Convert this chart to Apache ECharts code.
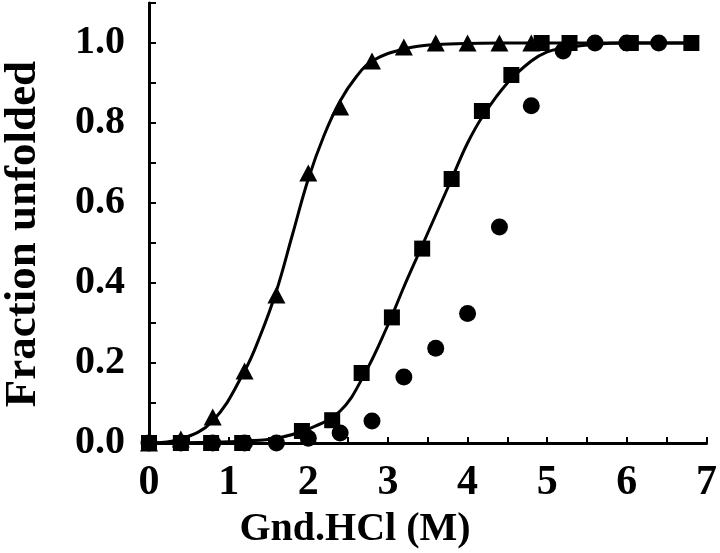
<!DOCTYPE html>
<html>
<head>
<meta charset="utf-8">
<script src="https://cdn.jsdelivr.net/npm/echarts@6/dist/echarts.min.js"></script>
<style>html,body{margin:0;padding:0;background:#fff;}#c{width:720px;height:553px;}</style>
</head>
<body>
<div id="c"></div>
<script>
// Triangles
var triX = [0, 0.4, 0.8, 1.2, 1.6, 2.0, 2.4, 2.8, 3.2, 3.6, 4.0, 4.4, 4.8];
var triY = [0, 0.01, 0.065, 0.18, 0.37, 0.675, 0.84, 0.955, 0.99, 1.0, 1.0, 1.0, 1.0];
// Squares
var sqX = [0, 0.4, 0.78, 1.17, 1.92, 2.30, 2.67, 3.05, 3.43, 3.80, 4.18, 4.55, 4.93, 5.28, 6.05, 6.81];
var sqY = [0, 0, 0, 0, 0.03, 0.057, 0.175, 0.314, 0.486, 0.66, 0.83, 0.92, 1.0, 1.0, 1.0, 1.0];
// Circles
var ciX = [0, 0.4, 0.8, 1.2, 1.6, 2.0, 2.4, 2.8, 3.2, 3.6, 4.0, 4.4, 4.8, 5.2, 5.6, 6.0, 6.4];
var ciY = [0, 0, 0, 0, 0, 0.012, 0.025, 0.055, 0.165, 0.237, 0.324, 0.54, 0.843, 0.98, 1.0, 1.0, 1.0];
// Fitted curves
var triFitX = [0, 0.4, 0.8, 1.2, 1.4, 1.6, 1.8, 2.0, 2.2, 2.4, 2.6, 2.8, 3.2, 3.6, 4.4, 6.8];
var triFitY = [0, 0.01, 0.055, 0.18, 0.27, 0.38, 0.52, 0.66, 0.77, 0.855, 0.915, 0.955, 0.985, 0.996, 1.0, 1.0];
var sqFitX = [0, 0.8, 1.2, 1.6, 2.0, 2.4, 2.7, 3.0, 3.2, 3.4, 3.6, 3.8, 4.0, 4.2, 4.5, 4.8, 5.0, 5.2, 5.6, 6.0, 6.8];
var sqFitY = [0, 0.002, 0.005, 0.012, 0.035, 0.08, 0.17, 0.295, 0.39, 0.48, 0.57, 0.66, 0.75, 0.82, 0.9, 0.955, 0.978, 0.987, 0.997, 1.0, 1.0];
var xTickLabels = ['0', '1', '2', '3', '4', '5', '6', '7'];
var yTickLabels = ['0.0', '0.2', '0.4', '0.6', '0.8', '1.0'];

function pairs(xs, ys) { return xs.map(function (x, i) { return [x, ys[i]]; }); }

var FONT = 'Liberation Serif';
var chart = echarts.init(document.getElementById('c'));
var tri = 'path://M0,-10L10,8L-10,8Z';
chart.setOption({
  animation: false,
  grid: { left: 149, right: 13, top: 3, bottom: 110 },
  xAxis: [{
    type: 'value', min: 0, max: 7, interval: 0.5,
    axisLine: { lineStyle: { color: '#000', width: 3 } },
    axisTick: { inside: true, length: 6, lineStyle: { color: '#000', width: 2 } },
    splitLine: { show: false },
    axisLabel: {
      margin: 19, color: '#000', fontFamily: FONT, fontWeight: 'bold', fontSize: 42,
      formatter: function (v) { return Math.abs(v - Math.round(v)) < 1e-6 ? xTickLabels[Math.round(v)] : ''; }
    }
  }, {
    type: 'value', min: 0, max: 7, position: 'top',
    axisLine: { show: true, lineStyle: { color: '#000', width: 2 } },
    axisTick: { show: false }, axisLabel: { show: false }, splitLine: { show: false }
  }],
  yAxis: [{
    type: 'value', min: 0, max: 1.1, interval: 0.1,
    axisLine: { show: true, lineStyle: { color: '#000', width: 3 } },
    axisTick: { inside: true, length: 7, lineStyle: { color: '#000', width: 2 } },
    splitLine: { show: false },
    axisLabel: {
      margin: 24, color: '#000', fontFamily: FONT, fontWeight: 'bold', fontSize: 40,
      formatter: function (v) {
        var k = Math.round(v * 10);
        return (k % 2 === 0 && k <= 10) ? yTickLabels[k / 2] : '';
      }
    }
  }, {
    type: 'value', min: 0, max: 1.1, position: 'right',
    axisLine: { show: true, lineStyle: { color: '#000', width: 2 } },
    axisTick: { show: false }, axisLabel: { show: false }, splitLine: { show: false }
  }],
  graphic: [{
    type: 'text', x: 355, y: 530,
    style: { text: 'Gnd.HCl (M)', fill: '#000', font: 'bold 40px "Liberation Serif"', textAlign: 'center', textVerticalAlign: 'middle' }
  }, {
    type: 'text', x: 23, y: 234, rotation: Math.PI / 2,
    style: { text: 'Fraction unfolded', fill: '#000', font: 'bold 45px "Liberation Serif"', textAlign: 'center', textVerticalAlign: 'middle' }
  }],
  series: [
    { type: 'line', data: pairs(triFitX, triFitY), smooth: 0.4, showSymbol: false, lineStyle: { color: '#000', width: 3 }, z: 2 },
    { type: 'line', data: pairs(sqFitX, sqFitY), smooth: 0.4, showSymbol: false, lineStyle: { color: '#000', width: 3 }, z: 2 },
    { type: 'scatter', data: pairs(ciX, ciY), symbol: 'circle', symbolSize: 17, itemStyle: { color: '#000', opacity: 1 }, z: 3 },
    { type: 'scatter', data: pairs(sqX, sqY), symbol: 'rect', symbolSize: 16, itemStyle: { color: '#000', opacity: 1 }, z: 4 },
    { type: 'scatter', data: pairs(triX, triY), symbol: tri, symbolSize: [18, 17], itemStyle: { color: '#000', opacity: 1 }, z: 5 }
  ]
});
</script>
</body>
</html>
